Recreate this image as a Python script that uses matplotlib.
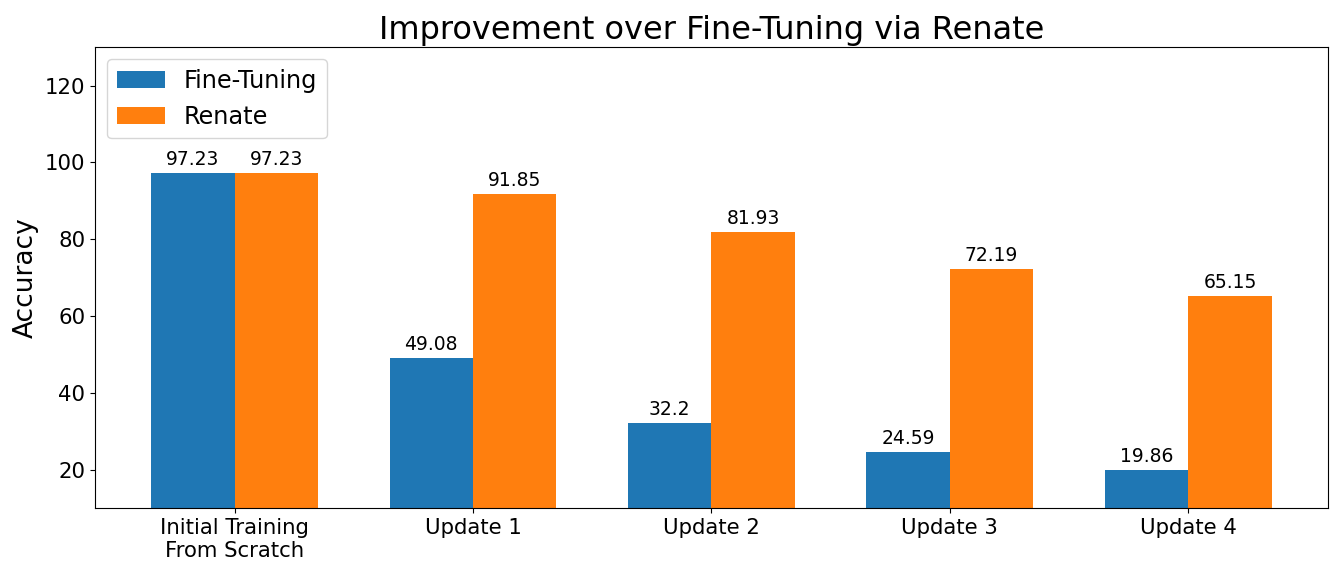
import matplotlib
matplotlib.use("Agg")
import matplotlib.pyplot as plt
import numpy as np

categorias = ["Initial Training\nFrom Scratch", "Update 1", "Update 2", "Update 3", "Update 4"]
fine_tuning = [97.23, 49.08, 32.2, 24.59, 19.86]
renate = [97.23, 91.85, 81.93, 72.19, 65.15]

x = np.arange(len(categorias))
ancho = 0.35

fig = plt.figure(figsize=(13.44, 5.76), dpi=100)
ax = fig.add_axes([0.0707, 0.118, 0.9173, 0.8])

b1 = ax.bar(x - ancho / 2, fine_tuning, ancho, label="Fine-Tuning", color="#1f77b4")
b2 = ax.bar(x + ancho / 2, renate, ancho, label="Renate", color="#ff7f0e")
ax.bar_label(b1, padding=3, fontsize=13.5)
ax.bar_label(b2, padding=3, fontsize=13.5)

ax.set_ylim(10, 130)
ax.set_yticks([20, 40, 60, 80, 100, 120])
ax.set_xticks(x)
ax.set_xticklabels(categorias)
ax.tick_params(labelsize=15.3)
ax.set_ylabel("Accuracy", fontsize=19)
ax.set_title("Improvement over Fine-Tuning via Renate", fontsize=23)
ax.legend(loc="upper left", fontsize=17.3)

plt.savefig("out.png", dpi=100)
